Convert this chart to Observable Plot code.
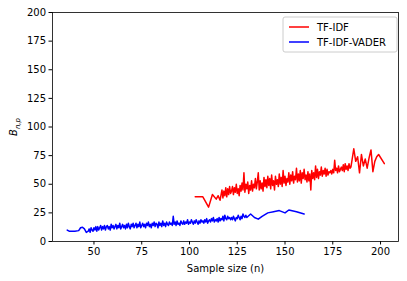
<!DOCTYPE html>
<html>
<head>
<meta charset="utf-8">
<script src="https://cdn.jsdelivr.net/npm/d3@7"></script>
<script src="https://cdn.jsdelivr.net/npm/@observablehq/plot@0.6"></script>
<style>
  html, body { margin: 0; padding: 0; background: #fff; }
  #chart svg { display: block; }
</style>
</head>
<body>
<div id="chart"></div>
<script>
// TF-IDF series (sample size n, B_{n,p})
const tfidfN = [103,107,110,112,114,115,116,
  117,117.5,118,118.5,119,119.5,120,120.5,121,121.5,
  122,122.5,123,123.5,124,124.5,125,125.5,126,126.5,
  127,127.5,128,128.5,129,129.5,130,130.5,131,131.5,
  132,132.5,133,133.5,134,134.5,135,135.5,136,136.5,
  137,137.5,138,138.5,139,139.5,140,140.5,141,141.5,
  142,142.5,143,143.5,144,144.5,145,145.5,146,146.5,
  147,147.5,148,148.5,149,149.5,150,150.5,151,151.5,
  152,152.5,153,153.5,154,154.5,155,155.5,156,156.5,
  157,157.5,158,158.5,159,159.5,160,160.5,161,161.5,
  162,162.5,163,163.5,164,164.5,165,165.5,166,166.5,
  167,167.5,168,168.5,169,169.5,170,170.5,171,171.5,
  172,172.5,173,173.5,174,174.5,175,175.5,176,176.5,
  177,177.5,178,178.5,179,179.5,180,180.5,181,181.5,
  182,182.5,183,183.5,184,184.5,
  186,187,188,189,190,191,192,193,194,195,196,197,198,199,202];
const tfidfB = [39,39,30,41,37,40,36,
  45,38,44,40,47,39,46,41,48,42,
  44,48,41,47,43,50,42,46,40,49,
  44,51,45,60,43,50,46,52,42,49,
  45,53,44,50,47,55,46,52,60,45,
  53,46,51,44,56,48,54,47,57,49,
  55,46,58,49,53,45,57,50,54,48,
  59,50,56,48,62,51,57,49,55,52,
  60,50,58,53,61,51,57,54,64,52,
  59,53,62,51,60,55,63,54,58,52,
  61,53,59,45,62,55,60,54,66,56,
  63,55,61,58,65,57,62,59,64,57,
  63,58,61,60,62,59,63,60,71,62,
  64,60,66,61,63,65,62,67,61,68,
  63,66,62,68,64,65,
  81,70,74,60,76,66,72,64,73,80,61,70,74,76,68];

// TF-IDF-VADER series
const vaderN = [36,37,38,40,42,43,44,45,46,
  47,47.5,48,48.5,49,49.5,50,50.5,51,51.5,
  52,52.5,53,53.5,54,54.5,55,55.5,56,56.5,
  57,57.5,58,58.5,59,59.5,60,60.5,61,61.5,
  62,62.5,63,63.5,64,64.5,65,65.5,66,66.5,
  67,67.5,68,68.5,69,69.5,70,70.5,71,71.5,
  72,72.5,73,73.5,74,74.5,75,75.5,76,76.5,
  77,77.5,78,78.5,79,79.5,80,80.5,81,81.5,
  82,82.5,83,83.5,84,84.5,85,85.5,86,86.5,
  87,87.5,88,88.5,89,89.5,90,90.5,91,91.5,
  92,92.5,93,93.5,94,94.5,95,95.5,96,96.5,
  97,97.5,98,98.5,99,99.5,100,100.5,101,101.5,
  102,102.5,103,103.5,104,104.5,105,105.5,106,106.5,
  107,107.5,108,108.5,109,109.5,110,110.5,111,111.5,
  112,112.5,113,113.5,114,114.5,115,115.5,116,116.5,
  117,117.5,118,118.5,119,119.5,120,120.5,121,121.5,
  122,122.5,123,123.5,124,124.5,125,125.5,126,126.5,
  127,127.5,128,128.5,129,129.5,130,
  132,134,136,138,141,144,147,150,152,156,160];
const vaderB = [10,9,9,9,9.5,12,12.5,11,8,
  9,11,8,12,10,9,12,10,13,9,
  13,10,12,14,10,13,11,14,10,13,
  14,11,13,10,15,12,14,11,13,15,
  11,14,12,16,11,13,15,12,14,11,
  15,12,16,13,11,15,13,16,12,14,
  16,12,15,13,17,12,14,16,13,15,
  12,16,14,17,13,15,12,16,14,17,
  13,16,15,12,17,14,16,13,18,14,
  16,13,17,15,14,17,15,16,14,22,
  15,17,14,18,15,16,14,18,16,15,
  18,15,17,16,19,15,17,16,19,17,
  15,18,16,19,17,15,18,16,19,17,
  18,16,19,17,20,16,18,19,17,20,
  18,21,17,19,18,20,17,21,18,20,
  19,22,18,23,20,19,22,20,21,19,
  21,19,22,20,18,21,20,23,21,19,
  22,20,24,22,21,23,21,
  24,21,19.5,22,25,26,27,25,27.5,26,24];

// Axis ticks
const xTicks = [50, 75, 100, 125, 150, 175, 200];
const yTicks = [0, 25, 50, 75, 100, 125, 150, 175, 200];

const seriesNames = ["TF-IDF", "TF-IDF-VADER"];
const seriesColors = ["#ff0000", "#0000ff"];

const rows = [
  ...tfidfN.map((n, i) => ({series: seriesNames[0], n, b: tfidfB[i]})),
  ...vaderN.map((n, i) => ({series: seriesNames[1], n, b: vaderB[i]}))
];

const font = "DejaVu Sans, sans-serif";

const chart = Plot.plot({
  width: 407,
  height: 281,
  marginLeft: 52,
  marginRight: 9,
  marginTop: 12,
  marginBottom: 40,
  style: {fontFamily: font, fontSize: "10px", color: "#000", background: "#fff"},
  x: {domain: [28.3, 209.4]},
  y: {domain: [0, 200]},
  color: {domain: seriesNames, range: seriesColors},
  marks: [
    Plot.line(rows, {x: "n", y: "b", z: "series", stroke: "series", strokeWidth: 1.5, strokeLinejoin: "round"}),
    Plot.frame({stroke: "#000", strokeWidth: 0.8}),
    Plot.axisX({ticks: xTicks, tickSize: 3.5, tickPadding: 3, label: "Sample size (n)", labelAnchor: "center", labelArrow: "none", labelOffset: 30, fontSize: 10}),
    Plot.axisY({ticks: yTicks, tickSize: 3.5, tickPadding: 3, label: null, fontSize: 10})
  ]
});

document.getElementById("chart").appendChild(chart);

// y-axis label B_{n,p}
const svg = d3.select(chart);
const yl = svg.append("text")
  .attr("transform", "translate(17,127) rotate(-90)")
  .attr("text-anchor", "middle")
  .style("font-family", font)
  .style("font-size", "10px")
  .style("font-style", "italic")
  .attr("fill", "#000");
yl.append("tspan").text("B");
yl.append("tspan").attr("dy", 2.5).style("font-size", "7px").text("n,p");

// legend
const lg = svg.append("g").attr("transform", "translate(283,17)");
lg.append("rect").attr("x", 0).attr("y", 0).attr("width", 114).attr("height", 35).attr("rx", 2)
  .style("fill", "#ffffff").style("fill-opacity", 0.8)
  .style("stroke", "#cccccc").style("stroke-width", "1px");
seriesNames.forEach((name, i) => {
  const y = 10 + i * 15;
  lg.append("line").attr("x1", 6).attr("x2", 26).attr("y1", y).attr("y2", y)
    .style("stroke", seriesColors[i]).style("stroke-width", "1.5px");
  lg.append("text").attr("x", 34).attr("y", y).attr("dy", "0.35em")
    .attr("text-anchor", "start")
    .style("font-family", font).style("font-size", "10px").style("fill", "#000").text(name);
});
</script>
</body>
</html>
